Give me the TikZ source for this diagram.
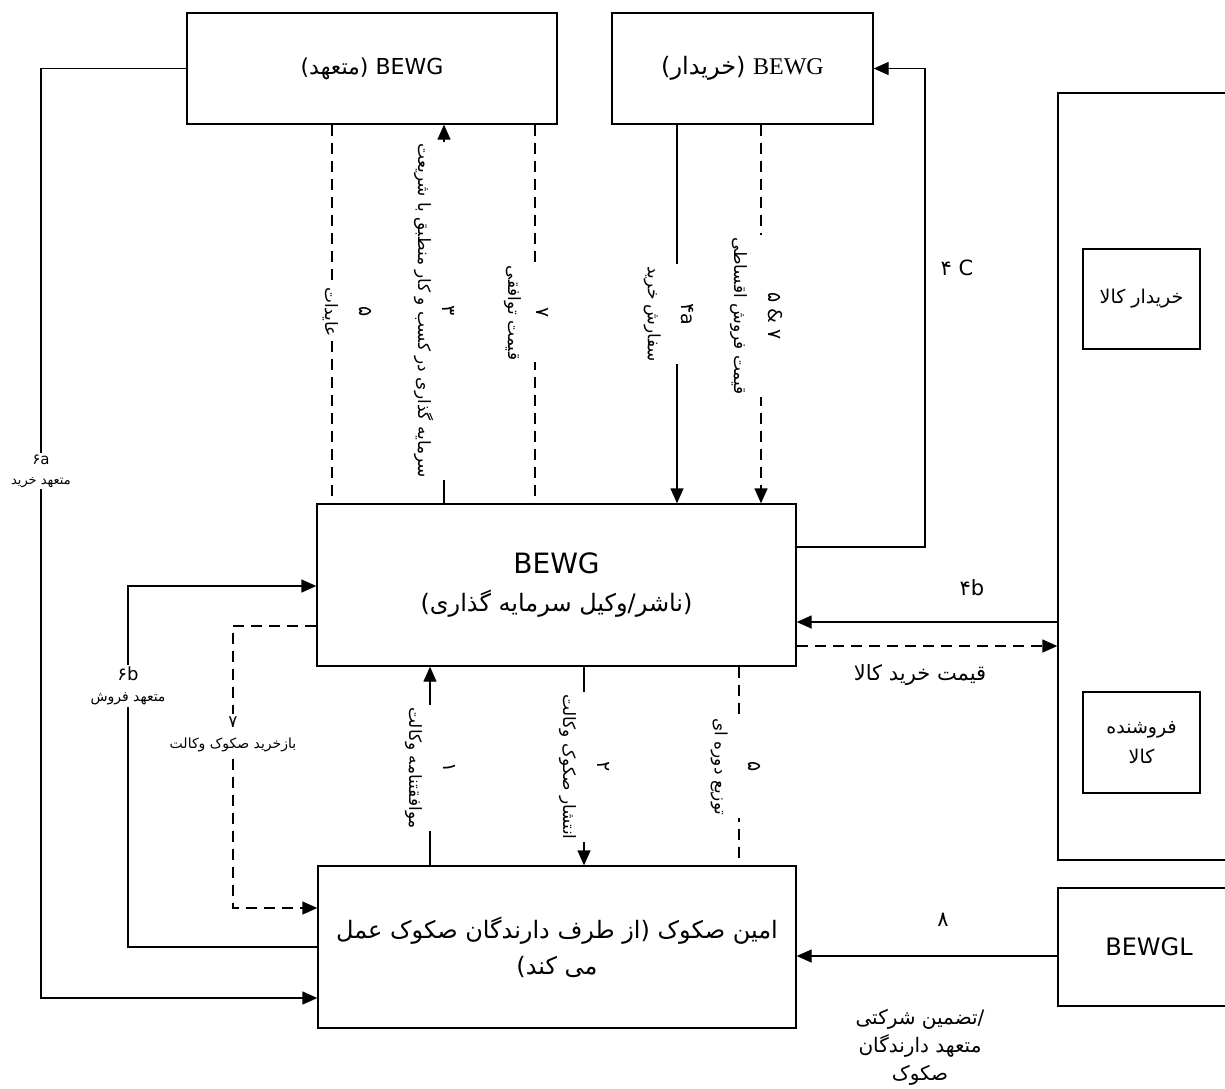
\documentclass[tikz,border=0pt]{standalone}
\usepackage{fontspec}
\setmainfont{DejaVu Sans}
\newfontfamily\fa[Script=Arabic]{DejaVu Sans}
\newfontfamily\rmlatin{Liberation Serif}
\usetikzlibrary{arrows.meta,calc}
\TeXXeTstate=1
\newcommand{\fatext}[1]{{\fa\beginR #1\endR}}
\newcommand{\stepno}[1]{{\fontsize{19}{20}\selectfont\fa #1}}

\tikzset{
  block/.style={draw, line width=1.3pt, align=center, inner sep=0pt, font=\fontsize{24}{38}\selectfont},
  flow/.style={line width=1.3pt},
  arr/.style={flow, -{Triangle[length=15pt,width=13pt]}},
  dashflow/.style={flow, dash pattern=on 11pt off 7pt},
  vlab/.style={rotate=-90, align=center, fill=white, inner sep=2pt, font=\fontsize{17}{34}\selectfont},
  hlab/.style={align=center, fill=white, inner sep=2pt, font=\fontsize{14}{21}\selectfont},
  note/.style={align=center, font=\fontsize{21}{28}\selectfont}
}

\begin{document}
\begin{tikzpicture}[x=1pt, y=-1pt]
  \useasboundingbox (0,0) rectangle (1225,1088);
  % boxes
  \node[block, minimum width=370pt, minimum height=111pt, font=\fontsize{22}{30}\selectfont] (uw) at (372,68.5)
    {\fatext{\beginL BEWG\endL{} (متعهد)}};
  \node[block, minimum width=261pt, minimum height=111pt] (buyer) at (742.5,68.5)
    {\fatext{\beginL{\rmlatin BEWG}\endL{} (خریدار)}};
  \node[block, minimum width=479pt, minimum height=162pt] (main) at (556.5,585)
    {{\fontsize{28}{30}\selectfont BEWG}\\\fatext{(ناشر/وکیل سرمایه گذاری)}};
  \node[block, minimum width=478pt, minimum height=162pt, font=\fontsize{24}{36}\selectfont] (trustee) at (557,947)
    {\fatext{امین صکوک (از طرف دارندگان صکوک عمل}\\\fatext{می کند)}};
  \node[block, minimum width=182pt, minimum height=767pt] (market) at (1149,476.5) {};
  \node[block, minimum width=117pt, minimum height=100pt, font=\fontsize{19}{28}\selectfont] (gbuyer) at (1141.5,299)
    {\fatext{خریدار کالا}};
  \node[block, minimum width=117pt, minimum height=101pt, font=\fontsize{19}{30}\selectfont] (gseller) at (1141.5,742.5)
    {\fatext{فروشنده}\\\fatext{کالا}};
  \node[block, minimum width=182pt, minimum height=118pt, font=\fontsize{24}{28}\selectfont] (bewgl) at (1149,947) {BEWGL};

  % connectors
  \draw[arr] (uw.west) -| (41,998) -- (trustee.west |- 41,998);
  \draw[arr] (trustee.west) -| (128,586) -- (main.west |- 128,586);
  \draw[dashflow, arr] (main.west |- 0,626) -| (233,908) -- (trustee.west |- 0,908);
  \draw[dashflow] (uw.south -| 332,0) -- (main.north -| 332,0);
  \draw[arr] (main.north -| 444,0) -- (uw.south -| 444,0);
  \draw[dashflow] (uw.south -| 535,0) -- (main.north -| 535,0);
  \draw[arr] (buyer.south -| 677,0) -- (main.north -| 677,0);
  \draw[dashflow, arr] (buyer.south -| 761,0) -- (main.north -| 761,0);
  \draw[arr] (main.east |- 0,547) -| (925,68.5) -- (buyer.east);
  \draw[arr] (market.west |- 0,622) -- (main.east |- 0,622);
  \draw[dashflow, arr] (main.east |- 0,646) -- (market.west |- 0,646);
  \draw[arr] (trustee.north -| 430,0) -- (main.south -| 430,0);
  \draw[arr] (main.south -| 584,0) -- (trustee.north -| 584,0);
  \draw[dashflow] (main.south -| 739,0) -- (trustee.north -| 739,0);
  \draw[arr] (bewgl.west |- 0,956) -- (trustee.east |- 0,956);

  % labels on the vertical lines
  \node[vlab] (l5a) at (347,312) {\stepno{۵}\\\fatext{عایدات}};
  \node[vlab, font=\fontsize{17}{24}\selectfont] (l3) at (434,311)
    {\stepno{۳}\\\fatext{سرمایه گذاری در کسب و کار منطبق با شریعت}};
  \node[vlab, font=\fontsize{17}{28}\selectfont] (l7a) at (526,313) {\stepno{۷}\\\fatext{قیمت توافقی}};
  \node[vlab] (l4a) at (669,314) {\stepno{۴a}\\\fatext{سفارش خرید}};
  \node[vlab] (l57) at (756,316) {\stepno{۵ \& ۷}\\\fatext{قیمت فروش اقساطی}};
  \node[vlab] (l1) at (430,768) {\stepno{۱}\\\fatext{موافقتنامه وکالت}};
  \node[vlab] (l2) at (584,767) {\stepno{۲}\\\fatext{انتشار صکوک وکالت}};
  \node[vlab] (l5b) at (736,767) {\stepno{۵}\\\fatext{توزیع دوره ای}};

  % labels on the left
  \node[hlab, font=\fontsize{13}{20}\selectfont] (l6a) at (41,471)
    {{\fontsize{15}{16}\selectfont\fa ۶a}\\\fatext{متعهد خرید}};
  \node[hlab] (l6b) at (128,686)
    {{\fontsize{18}{18}\selectfont\fa ۶b}\\\fatext{متعهد فروش}};
  \node[hlab] (l7b) at (233,734) {{\fontsize{17}{18}\selectfont\fa ۷}\\\fatext{بازخرید صکوک وکالت}};

  % labels on the right
  \node[note] (l4c) at (957,268) {{\fa ۴} C};
  \node[note] (l4b) at (972,588) {{\fa ۴}b};
  \node[note] (lprice) at (920,675) {\fatext{قیمت خرید کالا}};
  \node[note] (l8) at (943,920) {\fa ۸};
  \node[note, font=\fontsize{20}{28}\selectfont] (lguar) at (920,1047)
    {\fatext{تضمین شرکتی}/\\\fatext{متعهد دارندگان}\\\fatext{صکوک}};
\end{tikzpicture}
\end{document}
